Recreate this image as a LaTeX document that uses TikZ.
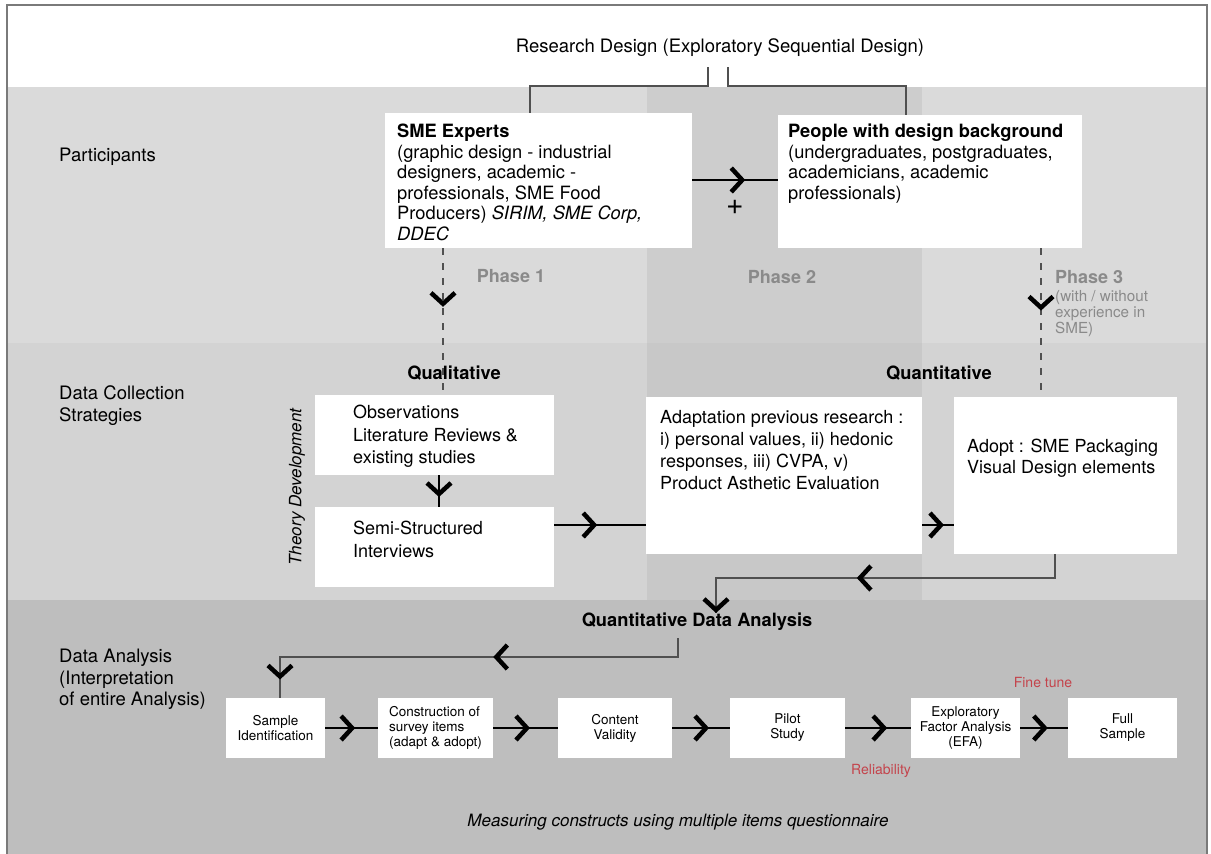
\documentclass[tikz,border=0pt]{standalone}
\usepackage{fontspec}
\setmainfont{TeX Gyre Heros}
\usetikzlibrary{arrows.meta,decorations.markings,calc}

\definecolor{bandA}{HTML}{DADADA}
\definecolor{bandB}{HTML}{D3D3D3}
\definecolor{colA}{HTML}{CDCDCD}
\definecolor{colB}{HTML}{C8C8C8}
\definecolor{bandC}{HTML}{BEBEBE}
\definecolor{framegray}{HTML}{7A7A7A}
\definecolor{linkgray}{HTML}{505050}
\definecolor{phasegray}{HTML}{8A8A8A}
\definecolor{notered}{HTML}{C4444C}

\tikzset{
  Chev/.tip={Straight Barb[length=11pt 0 0,width=24pt 0 0,line width=4.5pt 0 0,color=black]},
  box/.style={draw=none, fill=white, inner sep=0pt},
  sbox/.style={box, minimum height=60pt, align=center,
    font=\fontsize{13.5}{15}\selectfont},
  txt/.style={inner sep=0pt, anchor=north west, align=left,
    font=\fontsize{18.3}{20.5}\selectfont},
  head/.style={inner sep=0pt, font=\bfseries\fontsize{18.3}{21}\selectfont},
  phaselbl/.style={inner sep=0pt, text=phasegray, font=\bfseries\fontsize{18}{21}\selectfont},
  redlbl/.style={inner sep=0pt, text=notered, font=\fontsize{14}{16}\selectfont},
  chevron/.style={postaction={decorate}, decoration={markings,
    mark=at position #1 with {\arrow{Chev}}}},
  chevtwo/.style 2 args={postaction={decorate}, decoration={markings,
    mark=at position #1 with {\arrow{Chev}},
    mark=at position #2 with {\arrow{Chev}}}},
  flow/.style={draw=black, line width=2.5pt},
  linkline/.style={draw=linkgray, line width=2pt},
  dashlink/.style={draw=linkgray, line width=2.2pt, dash pattern=on 7pt off 8pt},
}

\begin{document}
\begin{tikzpicture}[x=1pt,y=-1pt]
\useasboundingbox (0,0) rectangle (1211,854);

% horizontal bands and the middle phase column
\fill[bandA] (7,87) rectangle (1207,343);
\fill[bandB] (7,343) rectangle (1207,600);
\fill[colA] (647,87) rectangle (922,343);
\fill[colB] (647,343) rectangle (922,600);
\fill[bandC] (7,600) rectangle (1207,858);
\draw[framegray, line width=1.5pt] (7,860) -- (7,5) -- (1207,5) -- (1207,860);

% row labels
\node[txt, font=\fontsize{18.5}{22}\selectfont] (lblP) at (59,148) {Participants};
\node[txt, font=\fontsize{18.5}{22}\selectfont] (lblD) at (59,385) {Data Collection\\Strategies};
\node[txt, font=\fontsize{18.5}{21.5}\selectfont] (lblA) at (59,649) {Data Analysis\\(Interpretation\\of entire Analysis)};

% title and bracket
\node[inner sep=0pt, font=\fontsize{18.5}{21}\selectfont] (title) at (720,48)
  {Research Design (Exploratory Sequential Design)};
\coordinate (bl) at (708,67);
\coordinate (br) at (728,67);

% participants
\node[box, minimum width=307pt, minimum height=135pt] (sme) at (538.5,180.5) {};
\node[txt] (smeT) at (397,124) {\textbf{SME Experts}\\(graphic design - industrial\\designers, academic -\\professionals, SME Food\\Producers) \textit{SIRIM, SME Corp,}\\\textit{DDEC}};
\node[box, minimum width=304pt, minimum height=133pt] (ppl) at (930,181.5) {};
\node[txt] (pplT) at (788,124) {\textbf{People with design background}\\(undergraduates, postgraduates,\\academicians, academic\\professionals)};

\draw[linkline] (bl) |- (530,86) -- (530,86 |- sme.north);
\draw[linkline] (br) |- (906,86) -- (906,86 |- ppl.north);

\draw[flow, chevron=0.62] (sme.east |- 0,180) -- (ppl.west |- 0,180);
\node[inner sep=0pt, font=\itshape\fontsize{30}{32}\selectfont] (plus) at (735,207) {+};

% phases
\node[phaselbl] (ph1) at (511,276) {Phase 1};
\node[phaselbl] (ph2) at (782,277) {Phase 2};
\node[phaselbl, anchor=west] (ph3) at (1055,277) {Phase 3};
\node[inner sep=0pt, anchor=north west, align=left, text=phasegray,
  font=\fontsize{15.2}{16.3}\selectfont] (ph3n) at (1055,290) {(with / without\\experience in\\SME)};

% data collection
\node[box, minimum width=239pt, minimum height=80pt] (obs) at (434.5,435) {};
\node[box, minimum width=239pt, minimum height=80pt] (semi) at (434.5,547) {};
\node[box, minimum width=276pt, minimum height=157pt] (adapt) at (784,475.5) {};
\node[box, minimum width=223pt, minimum height=157pt] (adopt) at (1065.5,475.5) {};

\draw[dashlink, chevron=0.40] (sme.south -| 443,0) -- (obs.north -| 443,0);
\draw[dashlink, chevron=0.42] (ppl.south -| 1041,0) -- (adopt.north -| 1041,0);

\node[head] (qual) at (454,373) {Qualitative};
\node[head] (quant) at (939,373) {Quantitative};

\node[txt, font=\fontsize{18}{22.5}\selectfont] (obsT) at (353,405) {Observations\\Literature Reviews \&\\existing studies};
\node[txt, font=\fontsize{18}{23}\selectfont] (semiT) at (353,521) {Semi-Structured\\Interviews};
\node[txt, font=\fontsize{18}{22}\selectfont] (adaptT) at (660,410) {Adaptation previous research :\\i) personal values, ii) hedonic\\responses, iii) CVPA, v)\\Product Asthetic Evaluation};
\node[txt, font=\fontsize{18}{21}\selectfont] (adoptT) at (967,439) {Adopt : SME Packaging\\Visual Design elements};
\node[rotate=90, inner sep=0pt, font=\itshape\fontsize{17}{20}\selectfont] (theory) at (297,487) {Theory Development};

\draw[flow, chevron=0.69] ([xshift=4.5pt]obs.south) -- ([xshift=4.5pt]semi.north);
\draw[flow, chevron=0.47] (semi.east |- 0,525) -- (adapt.west |- 0,525);
\draw[flow, chevron=0.69] (adapt.east |- 0,525) -- (adopt.west |- 0,525);

% data analysis
\node[head] (qda) at (697,622) {Quantitative Data Analysis};
\draw[linkline, chevtwo={0.558}{1}] (adopt.south -| 1055,0) -- (1055,578) -- (716,578) -- (716,0 |- qda.north);

\node[sbox, minimum width=99pt] (sample) at (275.5,728) {Sample\\Identification};
\node[sbox, minimum width=115pt, align=left] (constr) at (435.5,728) {Construction of\\survey items\\(adapt \& adopt)};
\node[sbox, minimum width=114pt] (content) at (615,728) {Content\\Validity};
\node[sbox, minimum width=115pt] (pilot) at (787.5,728) {Pilot\\Study};
\node[sbox, minimum width=109pt] (efa) at (965.5,728) {Exploratory\\Factor Analysis\\(EFA)};
\node[sbox, minimum width=109pt] (full) at (1122.5,728) {Full\\Sample};

\coordinate (qdaOut) at (678,638);
\draw[linkline, chevtwo={0.445}{0.96}] (qdaOut) -- (678,657) -- (280,657) -- (280,0 |- sample.north);

\draw[flow, chevron=0.57] (sample.east) -- (constr.west);
\draw[flow, chevron=0.57] (constr.east) -- (content.west);
\draw[flow, chevron=0.64] (content.east) -- (pilot.west);
\draw[flow, chevron=0.64] (pilot.east) -- (efa.west);
\draw[flow, chevron=0.58] (efa.east) -- (full.west);

\node[redlbl] (fine) at (1043,682) {Fine tune};
\node[redlbl] (rel) at (881,771) {Reliability};
\node[inner sep=0pt, font=\itshape\fontsize{17}{20}\selectfont] (measure) at (678,822)
  {Measuring constructs using multiple items questionnaire};
\end{tikzpicture}
\end{document}
